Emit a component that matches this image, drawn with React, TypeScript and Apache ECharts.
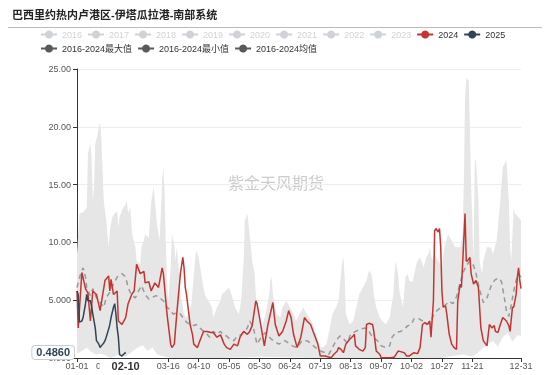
import React, { useEffect, useRef } from 'react';
import * as echarts from 'echarts';

const TITLE = '巴西里约热内卢港区-伊塔瓜拉港-南部系统';
const WATERMARK = '紫金天风期货';
const HIDDEN_YEARS = ['2016', '2017', '2018', '2019', '2020', '2021', '2022', '2023'];
const NAME_2024 = '2024';
const NAME_2025 = '2025';
const NAME_MAX = '2016-2024最大值';
const NAME_MIN = '2016-2024最小值';
const NAME_MEAN = '2016-2024均值';

// x categories: month-day of a leap year
const MONTH_DAYS = [31, 29, 31, 30, 31, 30, 31, 31, 30, 31, 30, 31];
const DATES: string[] = [];
MONTH_DAYS.forEach((n, m) => {
  for (let d = 1; d <= n; d++) DATES.push(`${String(m + 1).padStart(2, '0')}-${String(d).padStart(2, '0')}`);
});
const LABEL_STEP = 25;
const SKIPPED_LABEL = '12-16';

const Y_MIN = 0;
const Y_MAX = 25;
const Y_STEP = 5;
const CURSOR_DATE = '02-10';
const CURSOR_VALUE = 0.486;

// [day index, value]
const DATA_2024: [number, number][] = [
  [0, 5.8], [1, 2.6], [4, 7.4], [7, 6.0], [9, 5.6], [11, 3.2], [13, 5.8], [16, 5.5], [19, 4.1],
  [23, 6.7], [26, 7.1], [27, 5.8], [28, 6.8], [30, 5.5], [33, 5.8], [34, 3.2], [37, 2.9], [40, 3.5],
  [42, 4.7], [45, 5.5], [47, 5.8], [49, 8.1], [52, 7.3], [55, 7.5], [56, 6.5], [59, 6.6], [61, 5.8],
  [64, 6.5], [67, 6.1], [70, 7.8], [71, 7.3], [74, 3.8], [77, 1.2], [78, 0.9], [80, 1.2], [82, 3.8],
  [85, 7.3], [87, 8.7], [88, 7.8], [89, 6.1], [90, 5.5], [93, 2.9], [95, 2.0], [96, 1.2], [99, 0.9],
  [101, 1.5], [104, 2.3], [107, 2.3], [110, 2.2], [112, 2.2], [115, 1.8], [118, 2.0], [121, 1.2],
  [123, 0.9], [126, 0.75], [129, 1.2], [132, 1.05], [134, 1.8], [137, 2.3], [140, 2.05], [142, 2.3],
  [144, 2.8], [147, 4.95], [148, 4.7], [151, 2.9], [154, 1.05], [157, 2.9], [161, 4.8], [163, 2.9],
  [166, 1.9], [169, 2.3], [172, 3.2], [174, 4.1], [176, 3.5], [178, 2.05], [181, 0.9], [184, 1.8],
  [187, 3.5], [189, 3.2], [192, 2.9], [195, 2.05], [198, 1.2], [200, 0.17], [204, 0.17], [209, 0.03],
  [211, 0.3], [214, 0.6], [215, 0.9], [217, 0.75], [219, 0.46], [221, 1.2], [224, 1.6], [227, 1.9],
  [228, 2.05], [229, 1.05], [232, 0.75], [235, 0.6], [237, 0.9], [238, 2.9], [240, 3.0], [243, 2.9],
  [244, 2.3], [246, 0.6], [249, 0.3], [250, 0.03], [254, 0.03], [258, 0.03], [261, 0.09], [264, 0.6],
  [266, 0.55], [269, 0.46], [271, 0.17], [273, 0.17], [277, 0.46], [280, 0.38], [282, 0.9], [284, 2.9],
  [286, 3.06], [288, 2.92], [290, 3.2], [291, 1.8], [293, 4.95], [294, 11.0], [295, 11.2], [297, 10.9],
  [298, 11.2], [299, 9.6], [300, 5.8], [301, 4.4], [303, 4.5], [304, 3.8], [306, 2.05], [308, 1.2],
  [310, 0.9], [312, 0.75], [313, 4.95], [315, 6.4], [316, 6.1], [317, 8.1], [319, 12.5], [320, 8.4],
  [321, 8.4], [323, 8.7], [324, 7.3], [326, 6.4], [328, 6.7], [330, 6.1], [332, 2.6], [334, 1.5],
  [337, 1.05], [339, 2.9], [341, 2.6], [343, 2.8], [344, 2.3], [346, 2.2], [348, 2.9], [350, 3.5],
  [353, 3.2], [355, 2.8], [356, 2.3], [358, 4.4], [359, 4.4], [361, 5.5], [362, 7.0], [363, 7.8],
  [364, 6.7], [365, 6.0],
];

const DATA_2025: [number, number][] = [
  [0, 5.8], [1, 5.5], [2, 3.1], [4, 3.2], [5, 3.5], [7, 4.7], [8, 5.5], [9, 4.95], [11, 4.95],
  [12, 4.5], [13, 3.8], [15, 2.6], [16, 1.5], [18, 1.2], [19, 0.9], [20, 1.05], [22, 1.3], [23, 1.5],
  [24, 1.8], [26, 2.5], [27, 2.9], [28, 3.5], [30, 4.4], [31, 4.7], [32, 3.8], [33, 2.6], [34, 1.8],
  [35, 0.3], [37, 0.17], [38, 0.3], [39, 0.38], [40, 0.486],
];

const DATA_MEAN: [number, number][] = [
  [0, 6.1], [3, 7.3], [5, 7.8], [7, 7.0], [8, 6.1], [11, 5.4], [13, 6.0], [16, 5.2], [19, 4.8],
  [22, 4.4], [24, 5.2], [27, 5.7], [30, 6.4], [33, 7.0], [37, 7.3], [40, 7.0], [42, 6.1], [45, 5.4],
  [48, 5.2], [50, 5.7], [53, 6.25], [56, 5.5], [59, 5.1], [61, 5.2], [65, 5.4], [68, 5.2], [71, 4.95],
  [74, 4.4], [77, 4.1], [79, 3.8], [82, 3.9], [85, 3.8], [87, 3.5], [90, 3.1], [93, 2.9], [96, 2.8],
  [98, 2.9], [101, 2.6], [104, 2.3], [107, 2.05], [109, 1.8], [112, 2.3], [115, 2.05], [118, 2.3],
  [120, 2.05], [123, 1.9], [126, 1.6], [129, 1.5], [131, 1.8], [135, 2.05], [138, 2.3], [140, 2.6],
  [142, 3.2], [145, 2.6], [148, 1.2], [152, 1.9], [155, 2.2], [160, 1.6], [166, 1.2], [171, 1.5],
  [177, 1.05], [181, 0.9], [185, 1.5], [189, 1.5], [193, 1.2], [196, 0.9], [200, 0.6], [204, 0.46],
  [207, 0.32], [210, 0.9], [213, 1.5], [216, 1.9], [218, 1.8], [222, 1.3], [225, 2.05], [229, 2.3],
  [233, 2.5], [237, 2.6], [240, 2.3], [243, 1.8], [247, 1.5], [250, 1.05], [254, 0.9], [257, 1.05],
  [259, 1.8], [262, 2.2], [266, 2.3], [269, 2.5], [272, 2.8], [275, 2.9], [277, 3.4], [281, 3.4],
  [284, 3.2], [287, 2.9], [290, 3.0], [294, 3.9], [297, 4.2], [300, 4.4], [303, 4.6], [306, 4.9],
  [309, 4.7], [312, 5.3], [315, 6.5], [317, 7.3], [320, 8.0], [323, 8.4], [326, 8.0], [328, 7.3],
  [331, 5.9], [334, 4.8], [337, 5.2], [341, 6.4], [344, 6.8], [347, 6.9], [349, 6.6], [351, 5.4],
  [353, 4.1], [355, 3.6], [357, 4.6], [359, 5.8], [361, 6.7], [363, 7.3], [365, 7.0],
];

const DATA_MAX: [number, number][] = [
  [0, 9.0], [2, 12.5], [5, 12.6], [8, 13.0], [9, 17.7], [11, 18.5], [12, 17.4], [13, 13.6], [14, 14.8],
  [15, 18.5], [17, 19.4], [18, 20.0], [19, 20.4], [20, 19.1], [22, 13.6], [24, 11.9], [26, 9.6],
  [27, 11.0], [29, 12.2], [31, 12.5], [33, 12.7], [34, 11.3], [35, 12.2], [37, 12.8], [40, 13.3],
  [41, 13.6], [42, 12.5], [44, 13.0], [45, 11.0], [46, 10.4], [48, 9.6], [49, 8.4], [52, 8.1],
  [53, 9.6], [55, 10.2], [56, 10.7], [59, 10.4], [61, 13.5], [63, 14.8], [64, 13.6], [66, 11.3],
  [68, 10.2], [70, 15.4], [71, 16.5], [72, 14.5], [73, 10.0], [74, 6.5], [75, 4.95], [77, 7.8],
  [78, 10.7], [80, 9.8], [81, 8.4], [82, 9.6], [84, 7.3], [85, 5.5], [86, 4.95], [88, 3.8], [90, 3.5],
  [92, 3.8], [94, 4.66], [97, 8.4], [98, 9.3], [100, 8.7], [103, 6.7], [105, 5.5], [108, 4.95],
  [111, 4.37], [112, 3.5], [115, 4.37], [118, 4.95], [119, 5.5], [122, 5.8], [125, 6.1], [127, 5.5],
  [130, 4.37], [133, 3.8], [135, 4.95], [137, 8.4], [138, 11.9], [140, 12.5], [141, 11.6], [143, 9.6],
  [144, 8.4], [146, 7.3], [147, 5.5], [148, 4.37], [150, 3.2], [152, 2.63], [155, 3.8], [158, 5.5],
  [159, 6.7], [160, 7.0], [161, 5.5], [164, 3.8], [167, 3.5], [169, 4.37], [172, 4.95], [175, 4.37],
  [178, 3.8], [180, 3.2], [183, 3.8], [186, 4.37], [189, 3.8], [191, 3.5], [194, 2.92], [197, 1.77],
  [200, 0.9], [202, 0.9], [205, 1.19], [208, 2.63], [210, 3.8], [213, 4.4], [215, 4.9], [216, 6.1],
  [218, 8.4], [219, 8.7], [220, 7.0], [221, 3.8], [224, 2.92], [227, 3.2], [229, 4.08], [232, 5.5],
  [235, 6.1], [238, 6.7], [240, 7.55], [242, 7.26], [243, 6.7], [244, 5.5], [246, 4.37], [249, 3.5],
  [251, 3.2], [254, 2.92], [257, 3.5], [260, 5.5], [261, 7.26], [262, 8.4], [264, 7.26], [265, 5.8],
  [268, 4.37], [270, 7.0], [272, 7.26], [273, 6.7], [276, 6.6], [279, 8.13], [280, 8.4], [282, 8.7],
  [285, 7.84], [287, 8.7], [289, 9.0], [290, 9.58], [292, 8.42], [294, 9.0], [297, 8.42], [300, 7.84],
  [302, 9.58], [305, 10.7], [308, 10.16], [311, 9.58], [315, 9.58], [317, 10.7], [318, 15.0],
  [319, 22.5], [320, 24.2], [322, 24.0], [323, 20.0], [324, 14.8], [326, 8.4], [327, 17.1], [328, 17.2],
  [330, 13.6], [331, 8.4], [333, 7.26], [334, 8.4], [337, 9.58], [340, 9.58], [342, 9.0], [345, 10.16],
  [348, 13.6], [350, 16.5], [353, 17.1], [355, 13.6], [356, 9.58], [357, 8.42], [359, 13.0],
  [360, 12.47], [363, 12.18], [365, 11.9],
];

const DATA_MIN: [number, number][] = [
  [0, 0.4], [4, 0.6], [8, 0.9], [12, 0.5], [16, 0.3], [20, 0.4], [24, 0.2], [28, 0.0], [34, 0.3],
  [40, 0.1], [46, 0.6], [50, 0.9], [54, 1.1], [58, 0.6], [62, 0.9], [66, 0.3], [72, 0.1], [78, 0.0],
  [120, 0.0], [150, 0.1], [200, 0.0], [250, 0.0], [300, 0.0], [310, 0.2], [318, 0.3], [325, 0.1],
  [330, 0.5], [334, 0.9], [338, 1.2], [342, 1.5], [346, 1.0], [350, 1.8], [354, 2.2], [358, 1.4],
  [362, 2.0], [365, 1.9],
];

const FONT = "'Liberation Sans', 'Noto Sans CJK SC', sans-serif";

const labelInterval = (i: number) =>
  (i % LABEL_STEP === 0 && DATES[i] !== SKIPPED_LABEL) || i === DATES.length - 1;

export default function App() {
  const ref = useRef<HTMLDivElement>(null);

  useEffect(() => {
    if (!ref.current) return;
    const chart = echarts.init(ref.current, undefined, { renderer: 'svg' });

    const hiddenSeries = HIDDEN_YEARS.map((y) => ({
      name: y,
      type: 'line',
      data: [] as [number, number][],
      symbol: 'circle',
      showSymbol: false,
    }));

    const selected: Record<string, boolean> = {};
    HIDDEN_YEARS.forEach((y) => (selected[y] = false));

    const legendData: any[] = [
      ...HIDDEN_YEARS,
      NAME_2024,
      NAME_2025,
      { name: NAME_MAX, itemStyle: { color: '#595959' }, lineStyle: { color: '#595959', width: 2, opacity: 1 } },
      { name: NAME_MIN, itemStyle: { color: '#595959' }, lineStyle: { color: '#595959', width: 2, opacity: 1 } },
      { name: NAME_MEAN, itemStyle: { color: '#595959' }, lineStyle: { color: '#595959', width: 2, type: 'solid', opacity: 1 } },
    ];

    chart.setOption({
      animation: false,
      textStyle: { fontFamily: FONT },
      color: ['#c23531', '#2f4554', '#61a0a8', '#d48265', '#91c7ae', '#749f83', '#ca8622', '#bda29a'],
      title: {
        text: TITLE,
        left: 12,
        top: 9,
        padding: 0,
        textStyle: { fontSize: 11, fontWeight: 'bold', color: '#222', fontFamily: FONT },
      },
      legend: {
        data: legendData,
        selected,
        left: 40,
        top: 30,
        width: 470,
        itemWidth: 16,
        itemHeight: 10,
        itemGap: 5,
        padding: 0,
        textStyle: { fontSize: 9, color: '#333', fontFamily: FONT },
      },
      graphic: [
        {
          type: 'line',
          shape: { x1: 8, y1: 27.5, x2: 542, y2: 27.5 },
          style: { stroke: '#bbb', lineWidth: 1 },
          silent: true,
        },
        {
          type: 'text',
          left: 228,
          top: 175,
          silent: true,
          style: { text: WATERMARK, fontSize: 16, fill: '#cccccc', fontFamily: FONT },
          z: 0,
        },
      ],
      grid: { left: 77, right: 29, top: 69, bottom: 17 },
      xAxis: {
        type: 'category',
        data: DATES,
        boundaryGap: false,
        z: 3,
        axisLine: { lineStyle: { color: '#333' } },
        axisTick: { interval: labelInterval, length: 4, lineStyle: { color: '#333' } },
        axisLabel: { interval: labelInterval, fontSize: 9, color: '#555', margin: 3 },
        splitLine: { show: false },
        axisPointer: {
          show: true,
          status: 'show',
          value: DATES.indexOf(CURSOR_DATE),
          type: 'line',
          lineStyle: { opacity: 0 },
          label: {
            show: true,
            backgroundColor: '#fff',
            color: '#333',
            fontWeight: 'bold',
            fontSize: 11,
            padding: [2, 12],
            margin: 1,
          },
        },
      },
      yAxis: {
        type: 'value',
        min: Y_MIN,
        max: Y_MAX,
        interval: Y_STEP,
        axisLine: { show: true, lineStyle: { color: '#333' } },
        axisTick: { show: true, length: 4, lineStyle: { color: '#333' } },
        axisLabel: {
          fontSize: 9,
          color: '#555',
          margin: 6,
          formatter: (v: number) => Number(v).toPrecision(4),
        },
        splitLine: { lineStyle: { color: '#eee' } },
        axisPointer: {
          show: true,
          status: 'show',
          value: CURSOR_VALUE,
          type: 'line',
          lineStyle: { opacity: 0 },
          label: {
            show: true,
            backgroundColor: '#fff',
            borderColor: '#ccc',
            borderWidth: 1,
            color: '#2f4554',
            fontWeight: 'bold',
            fontSize: 11,
            padding: [1, 4],
            formatter: (p: any) => Number(p.value).toFixed(4),
          },
        },
      },
      series: [
        ...hiddenSeries,
        {
          name: NAME_2024,
          type: 'line',
          data: DATA_2024,
          symbol: 'circle',
          showSymbol: false,
          lineStyle: { width: 1.5, color: '#c23531' },
          itemStyle: { color: '#c23531' },
          z: 4,
        },
        {
          name: NAME_2025,
          type: 'line',
          data: DATA_2025,
          symbol: 'circle',
          showSymbol: false,
          lineStyle: { width: 1.5, color: '#2f4554' },
          itemStyle: { color: '#2f4554' },
          z: 5,
        },
        {
          name: NAME_MAX,
          type: 'line',
          data: DATA_MAX,
          symbol: 'circle',
          showSymbol: false,
          lineStyle: { width: 0, opacity: 0 },
          itemStyle: { color: '#595959' },
          areaStyle: { color: '#e6e6e6', opacity: 1 },
          z: 1,
          silent: true,
        },
        {
          name: NAME_MIN,
          type: 'line',
          data: DATA_MIN,
          symbol: 'circle',
          showSymbol: false,
          lineStyle: { width: 0, opacity: 0 },
          itemStyle: { color: '#595959' },
          areaStyle: { color: '#ffffff', opacity: 1 },
          z: 1,
          silent: true,
        },
        {
          name: NAME_MEAN,
          type: 'line',
          data: DATA_MEAN,
          symbol: 'circle',
          showSymbol: false,
          lineStyle: { width: 1.5, color: '#999999', type: [5, 4] },
          itemStyle: { color: '#595959' },
          z: 3,
        },
      ],
    });

    return () => chart.dispose();
  }, []);

  return <div ref={ref} style={{ position: 'fixed', left: 0, top: 0, width: 550, height: 375 }} />;
}
